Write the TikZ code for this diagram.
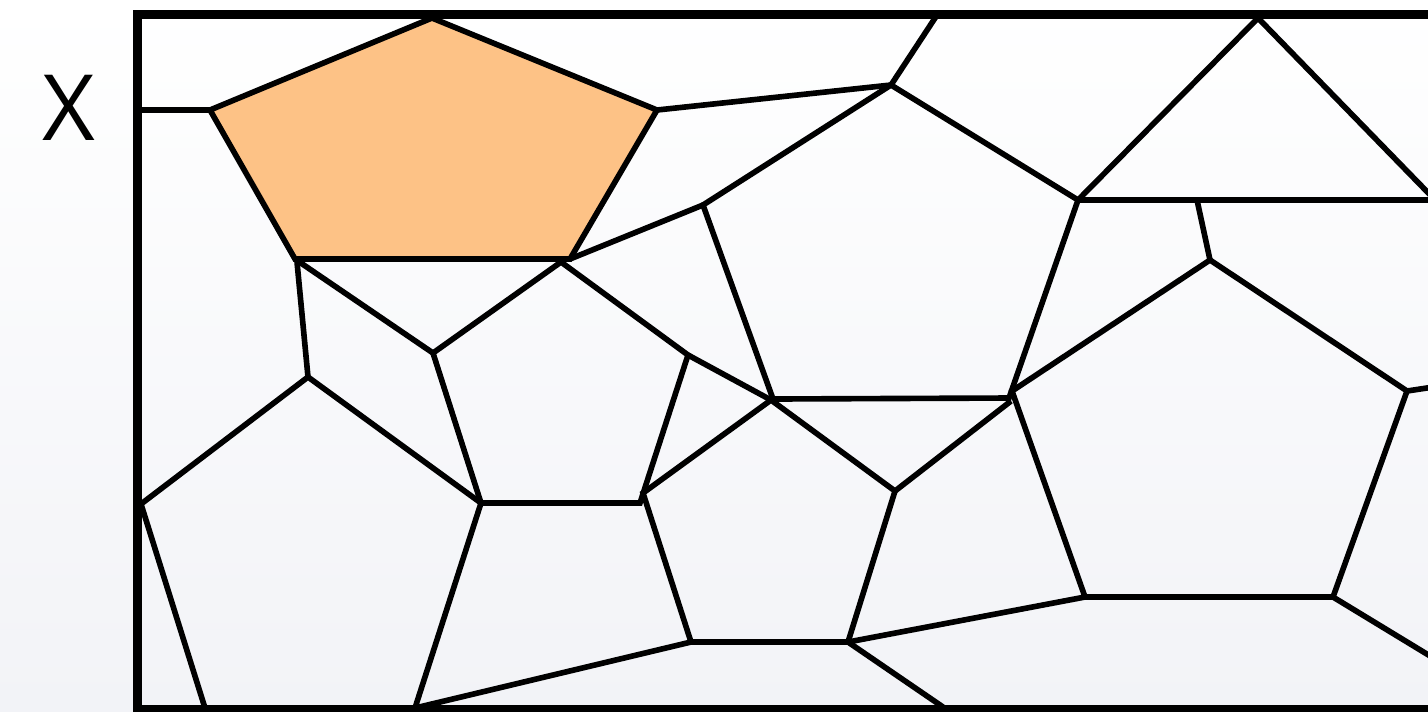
\documentclass[tikz,border=0pt]{standalone}
\usepackage{graphicx}
\usepackage{fontspec}
\setmainfont{Open Sans}
\definecolor{bgbot}{RGB}{242,243,247}
\definecolor{grainfill}{RGB}{253,194,134}
\begin{document}
\begin{tikzpicture}[x=0.01cm,y=-0.01cm,
  edge/.style={line width=1.6pt,black,line join=miter},
  framestyle/.style={line width=2.4pt,black},
  grain/.style={fill=grainfill}]
\useasboundingbox (0,0) rectangle (1428,711);
\clip (0,0) rectangle (1428,711);
\shade[top color=white,bottom color=bgbot] (0,0) rectangle (1428,711);

% frame corners and border points
\coordinate (FTL) at (137.5,14.5);
\coordinate (FTR) at (1440,14.5);
\coordinate (FBL) at (137.5,709);
\coordinate (FBR) at (1440,709);
\coordinate (L1) at (137.5,110);
\coordinate (TopA) at (937,15);
\coordinate (R1) at (1440,200);
\coordinate (R2) at (1440,386);
\coordinate (R3) at (1440,662);
\coordinate (Bot1) at (943,707);

% orange grain
\coordinate (A1) at (210,110);
\coordinate (A2) at (432,18);
\coordinate (A3) at (657,110);
\coordinate (A4) at (570,259);
\coordinate (A5) at (295,259);
% large upper pentagon
\coordinate (B1) at (891,85);
\coordinate (B2) at (1078,200);
\coordinate (B3) at (1009,398);
\coordinate (B4) at (773,399);
\coordinate (B5) at (703,205);
% triangle
\coordinate (T2) at (1258,18);
\coordinate (T3) at (1440,205);
\coordinate (H1) at (1197,200);
% right pentagon
\coordinate (C1) at (1210,260);
\coordinate (C2) at (1407,391);
\coordinate (C3) at (1333,597);
\coordinate (C4) at (1085,597);
\coordinate (C5) at (1012,391);
\coordinate (J) at (1011,401);
% middle lower pentagon
\coordinate (D1) at (771,400);
\coordinate (D2) at (895,491);
\coordinate (D3) at (848,642);
\coordinate (D4) at (691,642);
\coordinate (D5) at (643,493);
% small middle pentagon
\coordinate (E1) at (561,262);
\coordinate (E2) at (688,355);
\coordinate (E3) at (640,503);
\coordinate (E4) at (481,503);
\coordinate (E5) at (433,353);
% bottom-left pentagon
\coordinate (F1) at (308,377);
\coordinate (F3) at (415,708);
\coordinate (F4) at (205,708);
\coordinate (F5) at (141,504);
\coordinate (A5b) at (297,262);

\fill[grain] (A1) -- (A2) -- (A3) -- (A4) -- (A5) -- cycle;

\draw[edge] (A1) -- (A2) -- (A3) -- (A4) -- (A5) -- cycle;
\draw[edge] (L1) -- (A1);
\draw[edge] (A3) -- (B1) -- (TopA);
\draw[edge] (B1) -- (B2) -- (B3) -- (B4) -- (B5) -- cycle;
\draw[edge] (B5) -- (A4);
\draw[edge] (B2) -- (T2) -- (T3);
\draw[edge] (B2) -- (R1);
\draw[edge] (H1) -- (C1);
\draw[edge] (C1) -- (C2) -- (C3) -- (C4) -- (C5) -- cycle;
\draw[edge] (C2) -- (R2);
\draw[edge] (C3) -- (R3);
\draw[edge] (D1) -- (D2) -- (D3) -- (D4) -- (D5) -- cycle;
\draw[edge] (D2) -- (J);
\draw[edge] (D3) -- (C4);
\draw[edge] (D3) -- (Bot1);
\draw[edge] (D4) -- (F3);
\draw[edge] (E1) -- (E2) -- (E3) -- (E4) -- (E5) -- cycle;
\draw[edge] (E2) -- (D1);
\draw[edge] (A5) -- (E5);
\draw[edge] (A5b) -- (F1);
\draw[edge] (F5) -- (F1) -- (E4) -- (F3);
\draw[edge] (F5) -- (F4);

\draw[framestyle] (FTR) -- (FTL) -- (FBL) -- (FBR);

\node[font=\fontsize{26}{30}\selectfont, inner sep=0pt] (X) at (68.5,107.5) {X};
\end{tikzpicture}
\end{document}
